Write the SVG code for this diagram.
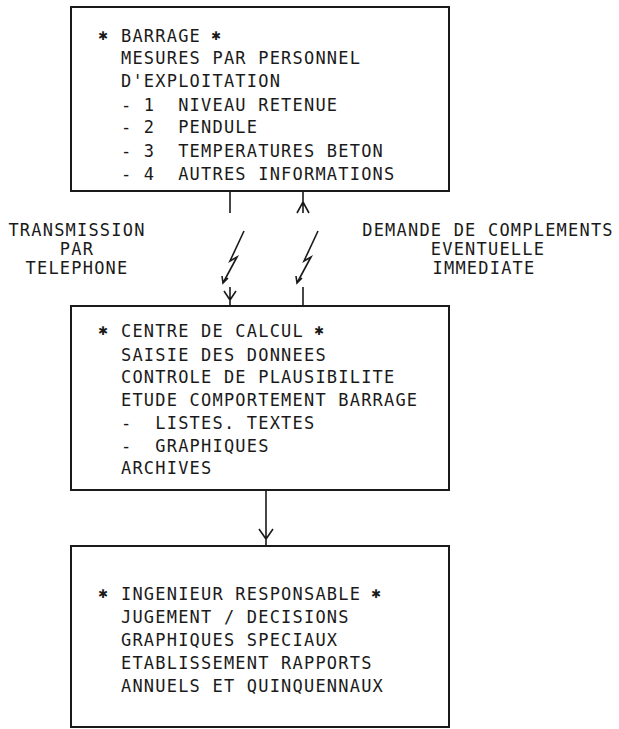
<svg xmlns="http://www.w3.org/2000/svg" width="619" height="729" viewBox="0 0 619 729">
<style>
.box{fill:none;stroke:#1a1a1a;stroke-width:2}
.ln{fill:none;stroke:#1a1a1a;stroke-width:1.6;stroke-linejoin:miter}
text{font-family:"DejaVu Sans Mono","Liberation Mono",monospace;font-size:17px;letter-spacing:1.2px;fill:#1a1a1a}
.st{font-family:"DejaVu Sans","Noto Sans",sans-serif;font-size:12px;letter-spacing:0}
.c{text-anchor:middle}
</style>
<rect width="619" height="729" fill="#fff"/>
<g id="barrage">
<rect class="box" x="71" y="7" width="378" height="184"/>
<text class="st" x="98" y="40">✱</text>
<text x="121" y="42">BARRAGE</text>
<text class="st" x="211" y="40">✱</text>
<text x="121" y="64">MESURES PAR PERSONNEL</text>
<text x="121" y="87">D'EXPLOITATION</text>
<text x="121" y="111" xml:space="preserve">- 1  NIVEAU RETENUE</text>
<text x="121" y="133" xml:space="preserve">- 2  PENDULE</text>
<text x="121" y="157" xml:space="preserve">- 3  TEMPERATURES BETON</text>
<text x="121" y="180" xml:space="preserve">- 4  AUTRES INFORMATIONS</text>
</g>
<g id="centre">
<rect class="box" x="71" y="306" width="378" height="184"/>
<text class="st" x="98" y="335">✱</text>
<text x="121" y="337">CENTRE DE CALCUL</text>
<text class="st" x="314" y="335">✱</text>
<text x="121" y="361">SAISIE DES DONNEES</text>
<text x="121" y="383">CONTROLE DE PLAUSIBILITE</text>
<text x="121" y="406">ETUDE COMPORTEMENT BARRAGE</text>
<text x="121" y="429" xml:space="preserve">-  LISTES. TEXTES</text>
<text x="121" y="452" xml:space="preserve">-  GRAPHIQUES</text>
<text x="121" y="474">ARCHIVES</text>
</g>
<g id="ingenieur">
<rect class="box" x="71" y="546" width="378" height="181"/>
<text class="st" x="98" y="598">✱</text>
<text x="121" y="600">INGENIEUR RESPONSABLE</text>
<text class="st" x="371" y="598">✱</text>
<text x="121" y="623">JUGEMENT / DECISIONS</text>
<text x="121" y="646">GRAPHIQUES SPECIAUX</text>
<text x="121" y="669">ETABLISSEMENT RAPPORTS</text>
<text x="121" y="692">ANNUELS ET QUINQUENNAUX</text>
</g>
<g id="labels">
<text class="c" x="77" y="236">TRANSMISSION</text>
<text class="c" x="77" y="255">PAR</text>
<text class="c" x="77" y="274">TELEPHONE</text>
<text class="c" x="488" y="236">DEMANDE DE COMPLEMENTS</text>
<text class="c" x="488" y="255">EVENTUELLE</text>
<text class="c" x="484" y="274">IMMEDIATE</text>
</g>
<g id="connectors">
<path class="ln" d="M230,191 V213"/>
<path class="ln" d="M244,231 L230,261 L237,257 L223,283 M222,276 L223,283 L228,278"/>
<path class="ln" d="M230,287 V306 M224,291 L230,300 L236,291"/>
<path class="ln" d="M303,191 V213 M297,213 L303,202 L309,213"/>
<path class="ln" d="M318,231 L304,261 L311,257 L297,283 M296,276 L297,283 L302,278"/>
<path class="ln" d="M303,287 V306"/>
<path class="ln" d="M266,490 V546 M259,529 L266,539 L273,529"/>
</g>
</svg>
